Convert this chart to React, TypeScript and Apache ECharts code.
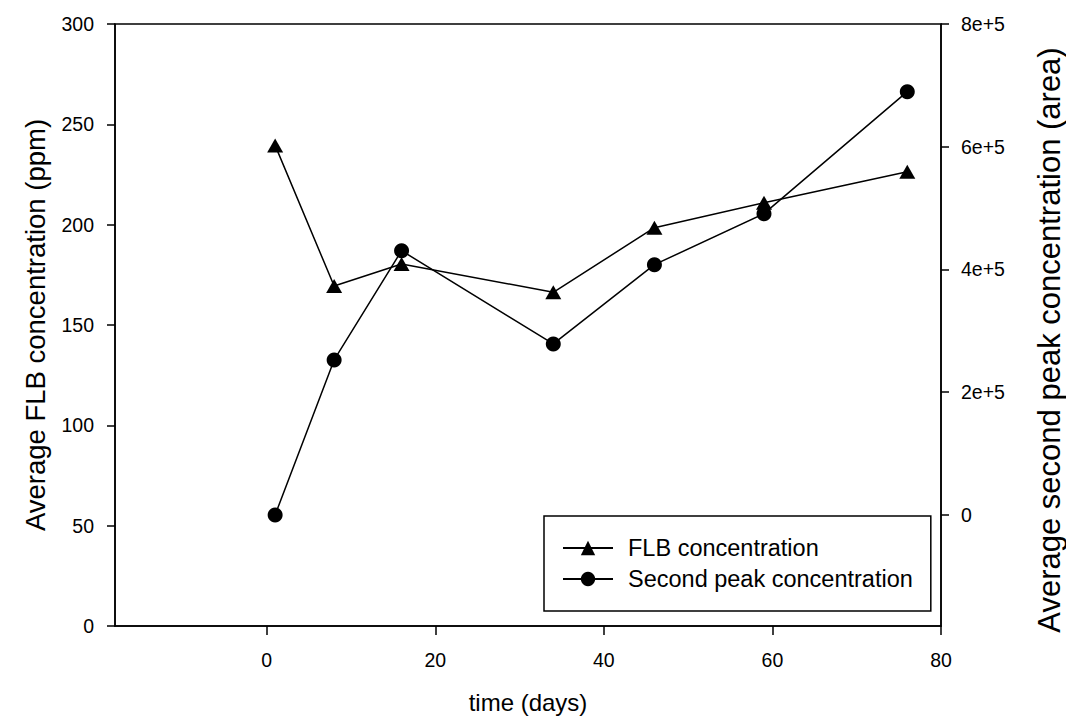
import React, { useEffect, useRef } from "react";
import * as echarts from "echarts";

const days = [1, 8, 16, 34, 46, 59, 76];
const flbConcentration = [239.5, 169.4, 180.4, 166.3, 198.5, 210.9, 226.4];
const secondPeakArea = [0, 252500, 430600, 278600, 407800, 490900, 689700];
const xTicks = [0, 20, 40, 60, 80];
const rightTicks = [0, 200000, 400000, 600000, 800000];

const FONT = "'Liberation Sans', Arial, sans-serif";

export default function App() {
  const ref = useRef<HTMLDivElement>(null);
  useEffect(() => {
    if (!ref.current) return;
    const chart = echarts.init(ref.current, undefined, { renderer: "svg" });
    const axisLine = { show: true, onZero: false, lineStyle: { color: "#000", width: 1.5 } };
    const axisTick = (len: number) => ({ show: true, inside: false, length: len, lineStyle: { color: "#000", width: 1.5 } });
    chart.setOption({
      animation: false,
      backgroundColor: "#fff",
      grid: {
        left: 115,
        top: 24,
        width: 826,
        height: 602,
        show: true,
        borderColor: "#000",
        borderWidth: 1.5,
        containLabel: false,
        outerBoundsMode: "none",
      },
      xAxis: {
        type: "value",
        min: -18,
        max: 80,
        name: "time (days)",
        nameLocation: "middle",
        nameGap: 64,
        nameTextStyle: { fontFamily: FONT, fontSize: 24, color: "#000" },
        axisLine,
        axisTick: { ...axisTick(9), customValues: xTicks },
        axisLabel: { customValues: xTicks, fontFamily: FONT, fontSize: 19.5, color: "#000", margin: 24 },
        splitLine: { show: false },
      },
      yAxis: [
        {
          type: "value",
          position: "left",
          min: 0,
          max: 300,
          interval: 50,
          name: "Average FLB concentration (ppm)",
          nameLocation: "middle",
          nameGap: 66,
          nameTextStyle: { fontFamily: FONT, fontSize: 27.5, color: "#000" },
          axisLine,
          axisTick: axisTick(8),
          axisLabel: { fontFamily: FONT, fontSize: 19.5, color: "#000", margin: 21 },
          splitLine: { show: false },
        },
        {
          type: "value",
          position: "right",
          min: -181000,
          max: 800000,
          name: "Average second peak concentration (area)",
          nameLocation: "middle",
          nameGap: 93,
          nameTextStyle: { fontFamily: FONT, fontSize: 31, color: "#000", padding: [0, 30, 0, 0] },
          axisLine,
          axisTick: { ...axisTick(8), customValues: rightTicks },
          axisLabel: {
            customValues: rightTicks,
            fontFamily: FONT,
            fontSize: 19.5,
            color: "#000",
            margin: 20,
            formatter: (v: number) => (v === 0 ? "0" : `${v / 100000}e+5`),
          },
          splitLine: { show: false },
        },
      ],
      legend: {
        orient: "vertical",
        left: 544,
        top: 516,
        padding: [20, 18, 20, 18],
        borderColor: "#000",
        borderWidth: 1.5,
        itemWidth: 50,
        itemHeight: 18,
        itemGap: 7,
        textStyle: { fontFamily: FONT, fontSize: 23.5, color: "#000", padding: [0, 0, 0, 10] },
        data: ["FLB concentration", "Second peak concentration"],
      },
      series: [
        {
          name: "FLB concentration",
          type: "line",
          data: days.map((d, i) => [d, flbConcentration[i]]),
          yAxisIndex: 0,
          symbol: "triangle",
          symbolSize: [16, 14],
          lineStyle: { color: "#000", width: 1.5 },
          itemStyle: { color: "#000" },
        },
        {
          name: "Second peak concentration",
          type: "line",
          data: days.map((d, i) => [d, secondPeakArea[i]]),
          yAxisIndex: 1,
          symbol: "circle",
          symbolSize: 15,
          lineStyle: { color: "#000", width: 1.5 },
          itemStyle: { color: "#000" },
        },
      ],
    });
    return () => chart.dispose();
  }, []);
  return <div ref={ref} style={{ position: "fixed", left: 0, top: 0, width: 1066, height: 727 }} />;
}
